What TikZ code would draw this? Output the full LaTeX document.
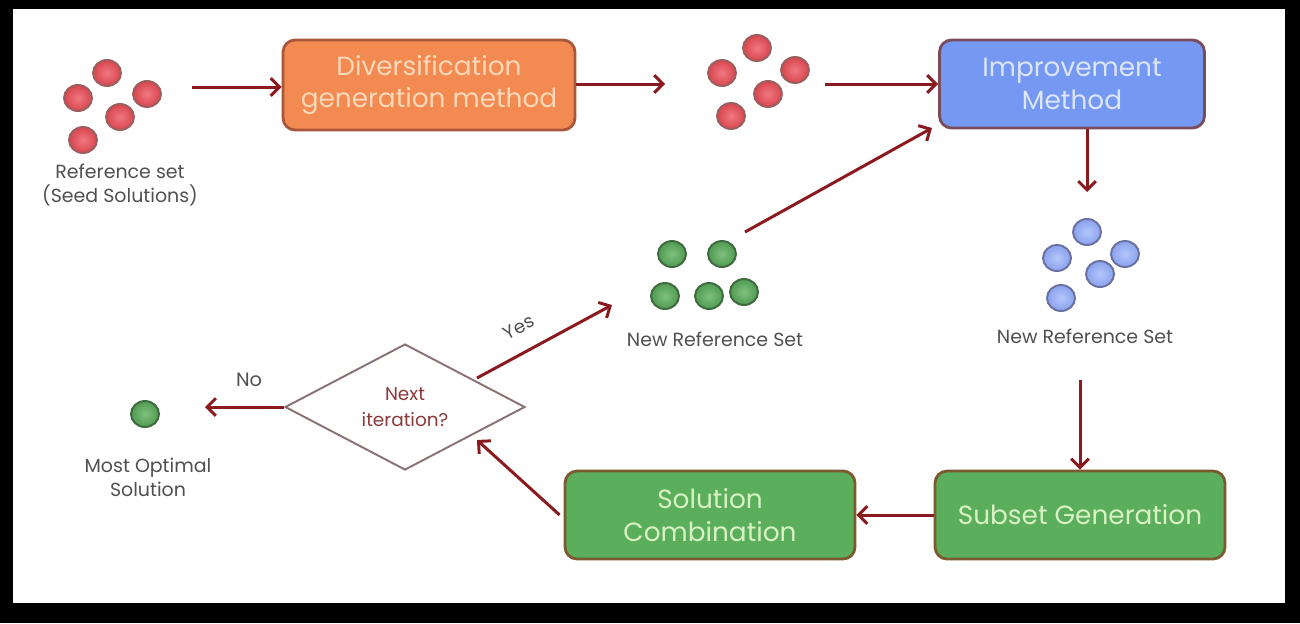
\documentclass[tikz,border=0pt]{standalone}
\usepackage{fontspec}
\setmainfont{Poppins}
\usetikzlibrary{arrows.meta,shapes.geometric,calc}
\definecolor{arrowred}{HTML}{8B1A1F}
\definecolor{orfill}{HTML}{F28A52}
\definecolor{ordraw}{HTML}{A8573A}
\definecolor{ortext}{HTML}{FAD8B8}
\definecolor{blfill}{HTML}{7598F2}
\definecolor{bldraw}{HTML}{7A4C5A}
\definecolor{bltext}{HTML}{DCE6FA}
\definecolor{grfill}{HTML}{5AAE5C}
\definecolor{grdraw}{HTML}{7A5A2E}
\definecolor{grtext}{HTML}{D8F2C4}
\definecolor{labgray}{HTML}{505050}
\definecolor{diadraw}{HTML}{8A7272}
\definecolor{diatext}{HTML}{8B3A3A}
\definecolor{redin}{HTML}{F07880}
\definecolor{redout}{HTML}{D8454E}
\definecolor{reddraw}{HTML}{9A6060}
\definecolor{bluein}{HTML}{B4C6FA}
\definecolor{blueout}{HTML}{8AA2EE}
\definecolor{bluedraw}{HTML}{6A70A0}
\definecolor{greenin}{HTML}{80C080}
\definecolor{greenout}{HTML}{4F9A50}
\definecolor{greendraw}{HTML}{3F6A40}
\begin{document}
\begin{tikzpicture}[x=0.02cm,y=-0.02cm,
  conn/.style={draw=arrowred,line width=1.7pt,-{Straight Barb[length=5pt,width=10pt,line width=1.7pt]}},
  procbox/.style={rounded corners=0.24cm,line width=1.6pt,align=center,inner sep=0pt,
    font=\fontsize{15}{18.5}\selectfont},
  orbox/.style={procbox,fill=orfill,draw=ordraw,text=ortext},
  blbox/.style={procbox,fill=blfill,draw=bldraw,text=bltext},
  grbox/.style={procbox,fill=grfill,draw=grdraw,text=grtext},
  dot/.style={ellipse,minimum width=0.56cm,minimum height=0.52cm,inner sep=0pt,line width=1.1pt},
  reddot/.style={dot,draw=reddraw,inner color=redin,outer color=redout},
  bluedot/.style={dot,draw=bluedraw,inner color=bluein,outer color=blueout},
  greendot/.style={dot,draw=greendraw,inner color=greenin,outer color=greenout},
  lab/.style={align=center,text=labgray,font=\fontsize{10.8}{13.6}\selectfont,inner sep=0pt}
]
\useasboundingbox (0,0) rectangle (1300,623);
\fill[black] (0,0) rectangle (1300,623);
\fill[white] (13,9) rectangle (1285,603);

% Seed solutions
\node[reddot] (r1) at (107,73) {};
\node[reddot] (r2) at (78,98) {};
\node[reddot] (r3) at (147,94) {};
\node[reddot] (r4) at (120,117) {};
\node[reddot] (r5) at (83,140) {};
\node[lab] (lref) at (120,185) {Reference set\\(Seed Solutions)};

% Diversification box
\node[orbox,minimum width=5.84cm,minimum height=1.8cm] (div) at (429,85) {Diversification\\generation method};

% Red dots 2
\node[reddot] (q1) at (757,48) {};
\node[reddot] (q2) at (722,73) {};
\node[reddot] (q3) at (795,70) {};
\node[reddot] (q4) at (768,94) {};
\node[reddot] (q5) at (731,116) {};

% Improvement box
\node[blbox,minimum width=5.3cm,minimum height=1.76cm] (imp) at (1072,84) {Improvement\\Method};

% Blue dots
\node[bluedot] (b1) at (1087,232) {};
\node[bluedot] (b2) at (1057,258) {};
\node[bluedot] (b3) at (1125,254) {};
\node[bluedot] (b4) at (1100,274) {};
\node[bluedot] (b5) at (1061,298) {};
\node[lab] (lblue) at (1085,336) {New Reference Set};

% Subset generation and solution combination
\node[grbox,minimum width=5.8cm,minimum height=1.76cm] (sub) at (1080,515) {Subset Generation};
\node[grbox,minimum width=5.8cm,minimum height=1.76cm] (comb) at (710,515) {Solution\\Combination};

% Decision
\node[diamond,draw=diadraw,line width=1.1pt,fill=white,minimum width=4.8cm,minimum height=2.22cm,
  inner sep=0pt,align=center,text=diatext,font=\fontsize{10.5}{15}\selectfont] (dia) at (405,407) {Next\\iteration?};

% Optimal solution
\node[greendot] (opt) at (145,414) {};
\node[lab] (lopt) at (148,477) {Most Optimal\\Solution};

% Green dots
\node[greendot] (g1) at (672,254) {};
\node[greendot] (g2) at (722,254) {};
\node[greendot] (g3) at (665,296) {};
\node[greendot] (g4) at (709,296) {};
\node[greendot] (g5) at (744,292) {};
\node[lab] (lgreen) at (715,339) {New Reference Set};

% connector end points
\coordinate (s1) at (192,87);
\coordinate (e2) at (665,84);
\coordinate (s3) at (825,84);
\coordinate (e4) at (1087,192);
\coordinate (s5) at (1080,380);
\coordinate (e7) at (477,440);
\coordinate (e8) at (205,407);
\coordinate (s9) at (477,378);
\coordinate (e9) at (612,305);
\coordinate (s10) at (745,232);
\coordinate (e10) at (932,128);

\draw[conn] (s1) -- (s1 -| div.west);
\draw[conn] (div.east |- e2) -- (e2);
\draw[conn] (s3) -- (s3 -| imp.west);
\draw[conn] (imp.south -| e4) -- (e4);
\draw[conn] (s5) -- (sub.north);
\draw[conn] (sub.west) -- (comb.east);
\draw[conn] ($(comb.west)+(-4,0)$) -- (e7);
\draw[conn] (dia.west) -- (e8);
\draw[conn] (s9) -- (e9);
\draw[conn] (s10) -- (e10);

\node[text=labgray,font=\fontsize{11}{13}\selectfont] (no) at (249,380) {No};
\node[text=labgray,font=\fontsize{10.5}{12}\selectfont,rotate=28,inner sep=1pt] (yes) at (519,327) {Yes};
\end{tikzpicture}
\end{document}
